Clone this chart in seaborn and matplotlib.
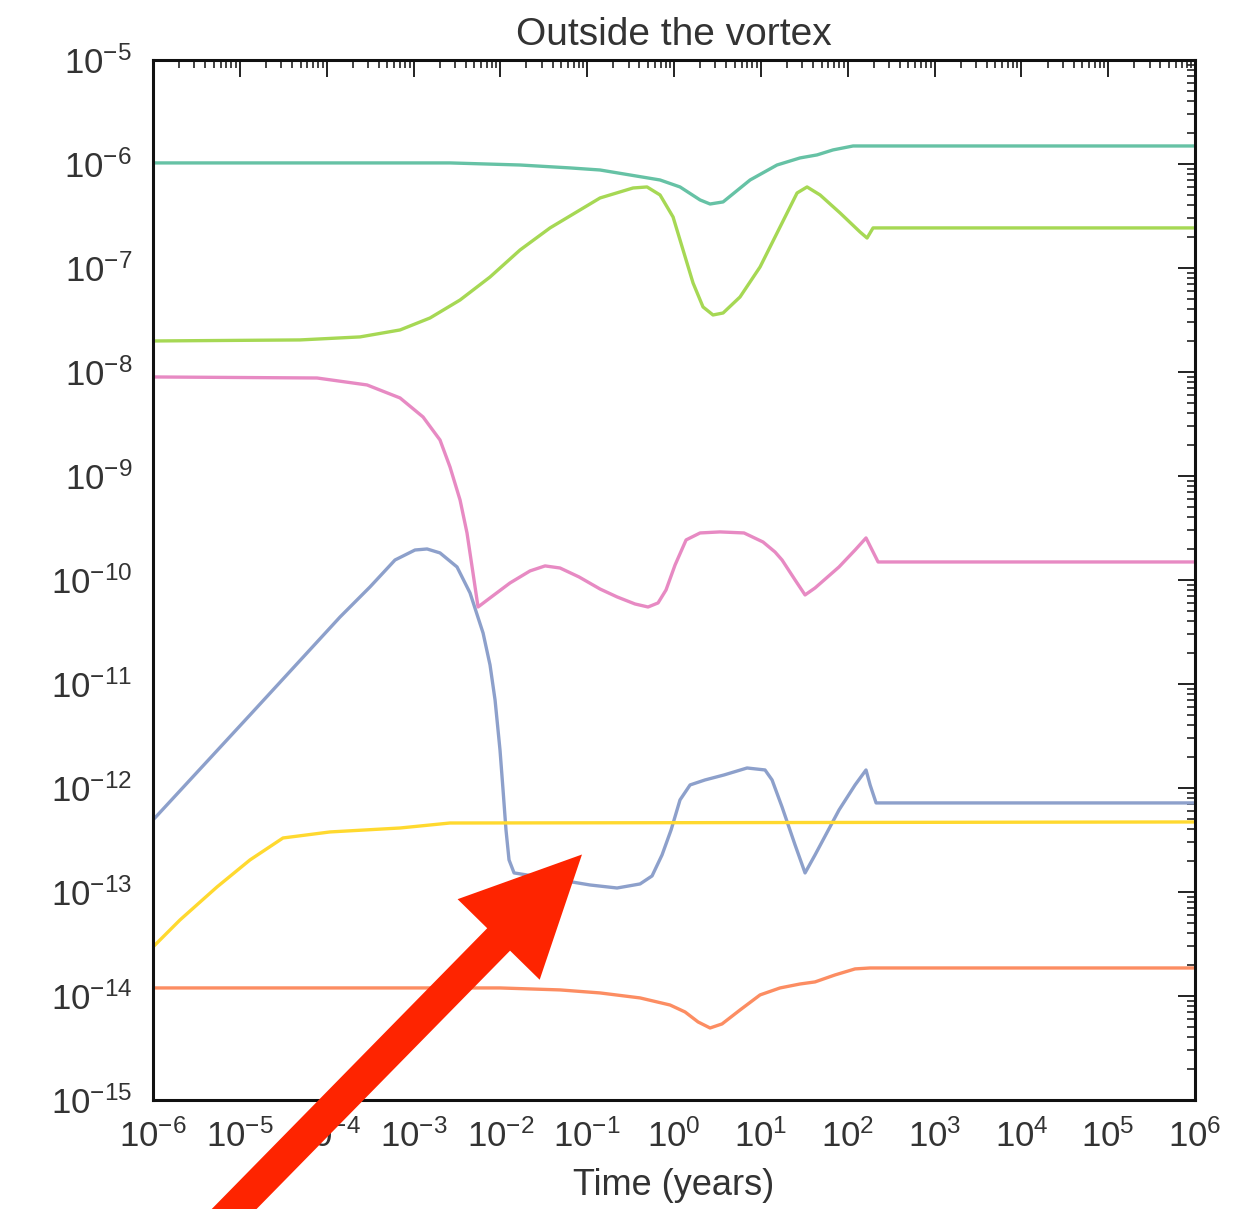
import numpy as np
import pandas as pd
import matplotlib
matplotlib.use("Agg")
import matplotlib.pyplot as plt
import seaborn as sns
from matplotlib.ticker import LogLocator, NullFormatter
from matplotlib.patches import FancyArrow
from matplotlib.transforms import IdentityTransform

# values, as log10(time in years) and log10(abundance)
teal_logt = [-6, -2.580, -1.773, -1.198, -0.852, -0.161, 0.069, 0.300, 0.415, 0.565, 0.876, 1.186,
             1.451, 1.647, 1.831, 2.062, 6]
teal_logy = [-5.990, -5.990, -6.010, -6.038, -6.058, -6.154, -6.221, -6.346, -6.385, -6.365, -6.154, -6.010,
             -5.942, -5.913, -5.865, -5.827, -5.827]

orange_logt = [-6, -2.004, -1.313, -0.852, -0.391, -0.046, 0.127, 0.277, 0.415, 0.553, 0.760, 0.991,
               1.221, 1.451, 1.624, 1.854, 2.085, 2.258, 6]
orange_logy = [-13.923, -13.923, -13.942, -13.971, -14.019, -14.087, -14.154, -14.250, -14.308, -14.269, -14.135, -13.990,
               -13.923, -13.885, -13.865, -13.798, -13.740, -13.731, -13.731]

blue_logt = [-6, -4.883, -3.846, -3.501, -3.213, -2.983, -2.844, -2.695, -2.499, -2.349, -2.199, -2.119,
             -2.061, -2.004, -1.969, -1.935, -1.900, -1.842, -1.624, -1.313, -0.967, -0.656, -0.391, -0.253,
             -0.138, -0.034, 0.069, 0.185, 0.357, 0.576, 0.841, 1.048, 1.129, 1.244, 1.394, 1.509,
             1.624, 1.900, 2.085, 2.211, 2.258, 2.327, 6]
blue_logy = [-12.308, -11.298, -10.356, -10.067, -9.808, -9.712, -9.702, -9.740, -9.875, -10.125, -10.510, -10.817,
             -11.154, -11.635, -12.019, -12.404, -12.692, -12.817, -12.846, -12.885, -12.933, -12.962, -12.923, -12.846,
             -12.644, -12.404, -12.115, -11.971, -11.923, -11.875, -11.808, -11.827, -11.923, -12.183, -12.548, -12.817,
             -12.644, -12.212, -11.971, -11.827, -11.971, -12.144, -12.144]

pink_logt = [-6, -4.111, -3.535, -3.155, -2.890, -2.695, -2.580, -2.464, -2.384, -2.315, -2.257, -2.119,
             -1.889, -1.658, -1.485, -1.313, -1.094, -0.852, -0.656, -0.449, -0.299, -0.184, -0.092, 0.012,
             0.139, 0.300, 0.530, 0.806, 1.025, 1.163, 1.244, 1.394, 1.509, 1.624, 1.900, 2.085,
             2.211, 2.281, 2.350, 6]
pink_logy = [-8.048, -8.058, -8.125, -8.250, -8.433, -8.654, -8.913, -9.231, -9.548, -9.933, -10.260, -10.173,
             -10.029, -9.913, -9.865, -9.885, -9.971, -10.087, -10.163, -10.231, -10.260, -10.221, -10.096, -9.856,
             -9.615, -9.548, -9.538, -9.548, -9.635, -9.731, -9.808, -10.000, -10.144, -10.077, -9.875, -9.712,
             -9.596, -9.712, -9.827, -9.827]

green_logt = [-6, -4.307, -3.616, -3.155, -2.810, -2.464, -2.119, -1.773, -1.428, -1.082, -0.852, -0.472,
              -0.311, -0.161, -0.011, 0.104, 0.219, 0.334, 0.449, 0.565, 0.760, 0.991, 1.221, 1.417,
              1.532, 1.682, 1.912, 2.142, 2.223, 2.292, 6]
green_logy = [-7.702, -7.692, -7.663, -7.596, -7.481, -7.308, -7.087, -6.827, -6.615, -6.442, -6.327, -6.231,
              -6.221, -6.298, -6.510, -6.827, -7.144, -7.375, -7.452, -7.433, -7.279, -6.990, -6.606, -6.279,
              -6.221, -6.298, -6.471, -6.654, -6.712, -6.615, -6.615]

yellow_logt = [-6, -5.689, -5.263, -4.883, -4.503, -3.962, -3.155, -2.580, 6]
yellow_logy = [-13.529, -13.269, -12.952, -12.692, -12.481, -12.423, -12.385, -12.337, -12.327]

series = [("teal", teal_logt, teal_logy), ("orange", orange_logt, orange_logy),
          ("blue", blue_logt, blue_logy), ("pink", pink_logt, pink_logy),
          ("green", green_logt, green_logy), ("yellow", yellow_logt, yellow_logy)]

rows = []
for name, lt, ly in series:
    for a, b in zip(lt, ly):
        rows.append({"species": name, "t": 10 ** a, "n": 10 ** b})
df = pd.DataFrame(rows)

sns.set_style("white")
plt.rcParams["font.family"] = ["Liberation Sans", "DejaVu Sans"]
plt.rcParams.update({
    "xtick.direction": "in", "ytick.direction": "in",
    "xtick.top": True, "ytick.right": True,
    "xtick.major.size": 12, "ytick.major.size": 12,
    "xtick.minor.size": 6, "ytick.minor.size": 6,
    "xtick.major.width": 1.4, "ytick.major.width": 1.4,
    "xtick.minor.width": 1.2, "ytick.minor.width": 1.2,
    "xtick.color": "#222222", "ytick.color": "#222222",
    "xtick.labelcolor": "#333333", "ytick.labelcolor": "#333333",
})

fig = plt.figure(figsize=(12.49, 12.09), dpi=100)
ax = fig.add_axes([0.1225, 0.0902, 0.8343, 0.8602])

sns.lineplot(data=df, x="t", y="n", hue="species", palette=sns.color_palette("Set2", 6),
             estimator=None, sort=False, linewidth=2.4, legend=False, ax=ax)

ax.set_xscale("log")
ax.set_yscale("log")
ax.set_xlim(1e-6, 1e6)
ax.set_ylim(1e-15, 1e-5)
ax.xaxis.set_major_locator(LogLocator(base=10, numticks=30))
ax.xaxis.set_minor_locator(LogLocator(base=10, subs=np.arange(2, 10), numticks=300))
ax.yaxis.set_major_locator(LogLocator(base=10, numticks=30))
ax.yaxis.set_minor_locator(LogLocator(base=10, subs=np.arange(2, 10), numticks=300))
ax.xaxis.set_minor_formatter(NullFormatter())
ax.yaxis.set_minor_formatter(NullFormatter())
ax.tick_params(axis="x", which="major", labelsize=25, pad=14)
ax.tick_params(axis="y", which="major", labelsize=25, pad=15)

for sp in ax.spines.values():
    sp.set_linewidth(2.2)
    sp.set_color("#111111")

ax.set_title("Outside the vortex", fontsize=28, color="#333333", pad=11)
ax.set_xlabel("Time (years)", fontsize=26, color="#333333", labelpad=10)
ax.set_ylabel("")

# big red arrow overlaid on the chart, tip at a point in data space
tip_x, tip_y = ax.transData.transform((10 ** -1.06, 10 ** -12.64))
tail_x, tail_y = 190, -45
arrow = FancyArrow(tail_x, tail_y, tip_x - tail_x, tip_y - tail_y, width=32,
                   head_width=115, head_length=119, length_includes_head=True,
                   transform=IdentityTransform(), color="#fe2400", linewidth=0)
fig.add_artist(arrow)

fig.savefig("out.png", dpi=100, facecolor="white")
